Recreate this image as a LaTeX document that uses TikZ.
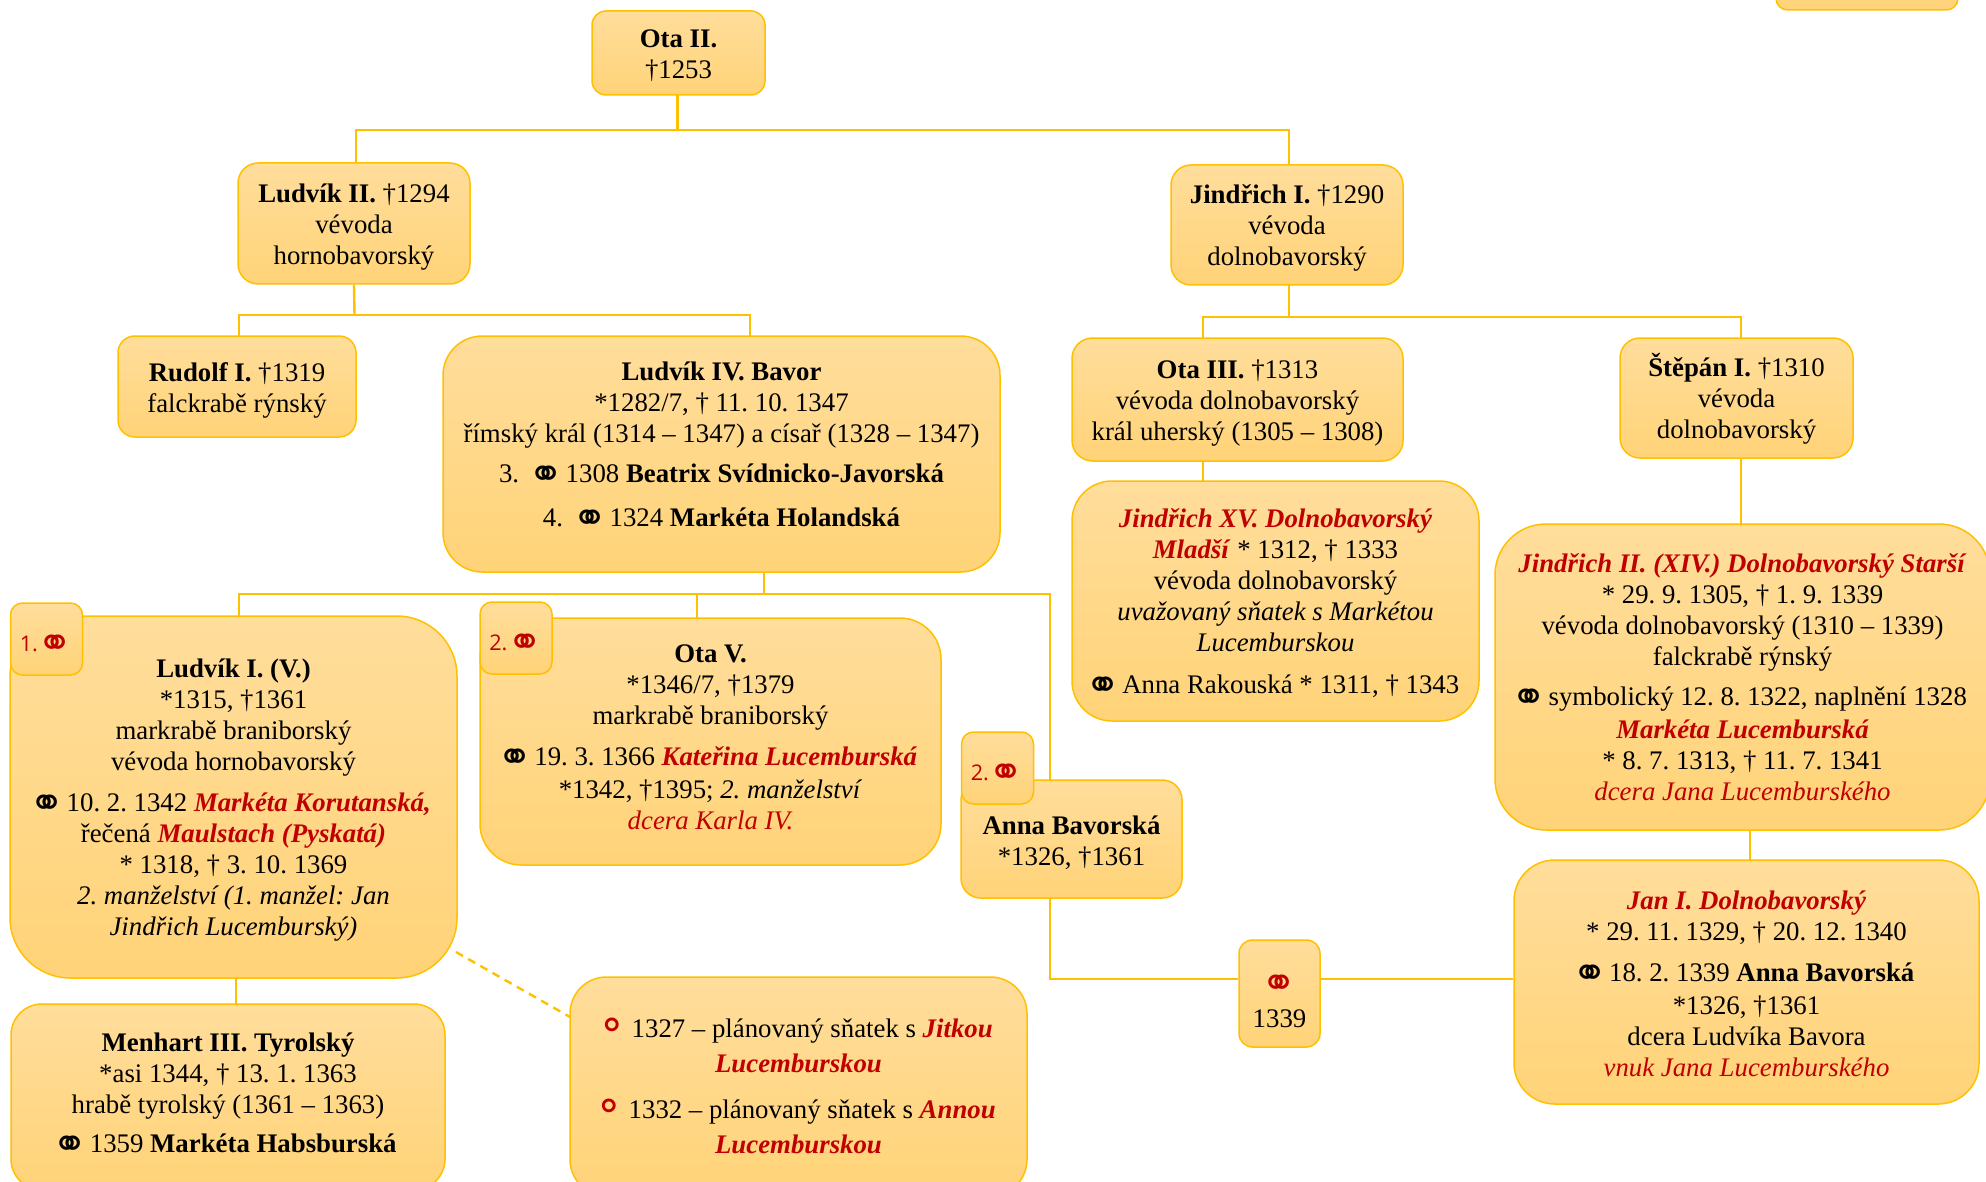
\documentclass[tikz,border=0pt]{standalone}
\usepackage{fontspec}
\setmainfont{Liberation Serif}
\newfontfamily\symfont{DejaVu Sans}
\newfontfamily\badgefont{Open Sans}
\definecolor{linegold}{HTML}{FFC000}
\definecolor{boxtop}{HTML}{FFDD9B}
\definecolor{boxbottom}{HTML}{FFD378}
\definecolor{namered}{HTML}{C00000}
\newcommand{\snb}{\smash{\raisebox{-3pt}{\symfont\fontsize{21}{21}\selectfont\char"26AD}}}
\newcommand{\sn}{\hspace{-3.2pt}\snb\hspace{-2.5pt}}
\newcommand{\plansn}{\hspace{-4.4pt}\smash{\raisebox{-1pt}{\symfont\fontsize{20}{20}\selectfont\color{namered}\char"26AC}}\hspace{-2pt}}
\newcommand{\jm}[1]{\textcolor{namered}{\textbf{\textit{#1}}}}
\newcommand{\rd}[1]{\textcolor{namered}{\textit{#1}}}
\newcommand{\dn}[1]{\rule{0pt}{\dimexpr 9.5pt+#1pt\relax}}
\newcommand{\up}[1]{\rule[-\dimexpr 3pt+#1pt\relax]{0pt}{0pt}}
\tikzset{
  boxsize/.style 2 args={minimum width=#1*0.5pt, minimum height=#2*0.5pt, rounded corners={min(#1,#2)/6*0.5pt}},
  person/.style={draw=linegold, line width=0.75pt, top color=boxtop, bottom color=boxbottom,
    inner sep=0pt, align=center, font=\fontsize{13.4}{15.5}\selectfont\frenchspacing},
  badge/.style={person, boxsize={72}{72}, font=\badgefont\fontsize{10.8}{12}\selectfont, text=namered},
  link/.style={draw=linegold, line width=1.2pt},
}
\begin{document}
\begin{tikzpicture}[x=0.5pt, y=-0.5pt]
  \clip (0,0) rectangle (1986,1182);
  % first two generations
  \node[person, boxsize={173}{84}] (otaII) at (678.5,53) {\dn{2.5}\textbf{Ota II.}\\†1253};
  \node[person, boxsize={232}{121}] (ludII) at (354,223.5) {\dn{3.8}\textbf{Ludvík II.} †1294\\vévoda\\hornobavorský};
  \node[person, boxsize={232}{120}] (jinI) at (1287,225) {\dn{2.5}\textbf{Jindřich I.} †1290\\vévoda\\dolnobavorský};
  \node[person, boxsize={182}{70}] (corner) at (1867,-25) {};
  % sons
  \node[person, boxsize={238}{101}] (rudI) at (237,386.5) {\dn{3.8}\textbf{Rudolf I.} †1319\\falckrabě rýnský};
  \node[person, boxsize={557}{236}] (ludIV) at (721.5,454) {\textbf{Ludvík IV. Bavor}\\*1282/7, † 11. 10. 1347\\římský král (1314 – 1347) a císař (1328 – 1347)\\[4.3pt]
    3.\hspace{0.6em}\sn{} 1308 \textbf{Beatrix Svídnicko-Javorská}\\[6.5pt]
    4.\hspace{0.6em}\sn{} 1324 \textbf{Markéta Holandská}\up{6.7}};
  \node[person, boxsize={331}{123}] (otaIII) at (1237.5,399.5) {\dn{3.8}\textbf{Ota III.} †1313\\vévoda dolnobavorský\\král uherský (1305 – 1308)};
  \node[person, boxsize={233}{120}] (stepI) at (1736.5,398) {\dn{2.5}\textbf{Štěpán I.} †1310\\vévoda\\dolnobavorský};
  \node[person, boxsize={407}{240}] (jinXV) at (1275.5,601) {\dn{2}\jm{Jindřich XV. Dolnobavorský}\\\jm{Mladší} * 1312, † 1333\\vévoda dolnobavorský\\\textit{uvažovaný sňatek s Markétou}\\\textit{Lucemburskou}\\[5.2pt]\sn{} Anna Rakouská * 1311, † 1343};
  \node[person, boxsize={495}{306}] (jinII) at (1742.5,677) {\dn{0.4}\jm{Jindřich II. (XIV.) Dolnobavorský Starší}\\* 29. 9. 1305, † 1. 9. 1339\\vévoda dolnobavorský (1310 – 1339)\\falckrabě rýnský\\[4.5pt]\sn{} symbolický 12. 8. 1322, naplnění 1328\\[1pt]\jm{Markéta Lucemburská}\\* 8. 7. 1313, † 11. 7. 1341\\\rd{dcera Jana Lucemburského}};
  % children of Ludvik IV
  \node[person, boxsize={447}{362}] (ludI) at (233.5,797) {\dn{3.2}\textbf{Ludvík I. (V.)}\\*1315, †1361\\markrabě braniborský\\vévoda hornobavorský\\[5pt]\sn{} 10. 2. 1342 \jm{Markéta Korutanská,}\\řečená \jm{Maulstach (Pyskatá)}\\* 1318, † 3. 10. 1369\\\textit{2. manželství (1. manžel: Jan}\\\textit{Jindřich Lucemburský)}};
  \node[badge] (ludIbadge) at (46.5,639) {\dn{3.5}1.\snb};
  \node[person, boxsize={461}{247}] (otaV) at (710.5,741.5) {\textbf{Ota V.}\\*1346/7, †1379\\markrabě braniborský\\[5pt]\sn{} 19. 3. 1366 \jm{Kateřina Lucemburská}\\[1pt]*1342, †1395; \textit{2. manželství}\\\rd{dcera Karla IV.}\up{1.2}};
  \node[badge] (otaVbadge) at (516,638) {\dn{3.5}2.\snb};
  \node[person, boxsize={221}{118}] (anna) at (1071.5,839) {\dn{4}\textbf{Anna Bavorská}\\*1326, †1361};
  \node[badge] (annabadge) at (997.5,768) {\dn{3.5}2.\snb};
  \node[person, boxsize={81}{107}] (svatba) at (1279.5,993.5) {\dn{6.5}\textcolor{namered}{\snb}\\[2.5pt]1339};
  \node[person, boxsize={465}{244}] (janI) at (1746.5,982) {\dn{2}\jm{Jan I. Dolnobavorský}\\* 29. 11. 1329, † 20. 12. 1340\\[5pt]\sn{} 18. 2. 1339 \textbf{Anna Bavorská}\\[1pt]*1326, †1361\\dcera Ludvíka Bavora\\\rd{vnuk Jana Lucemburského}};
  \node[person, boxsize={434}{186}] (menIII) at (228,1097) {\textbf{Menhart III. Tyrolský}\\*asi 1344, † 13. 1. 1363\\hrabě tyrolský (1361 – 1363)\\[4pt]\sn{} 1359 \textbf{Markéta Habsburská}\up{1.3}};
  \node[person, boxsize={457}{219}] (plany) at (798.5,1086.5) {\plansn{} 1327 – plánovaný sňatek s \jm{Jitkou}\\[2pt]\jm{Lucemburskou}\\[7.3pt]\plansn{} 1332 – plánovaný sňatek s \jm{Annou}\\[2pt]\jm{Lucemburskou}};
  % connectors
  \coordinate (otaIIbot) at (677.5,95);
  \coordinate (busA) at (677.5,130);
  \coordinate (ludIItop) at (356,163);
  \coordinate (jinItop) at (1289,165);
  \coordinate (busB) at (354.5,315);
  \coordinate (rudItop) at (239,336);
  \coordinate (jinIbot) at (1289,285);
  \coordinate (busC) at (1289,317);
  \coordinate (busD) at (764,594);
  \coordinate (ludIVtop) at (750,336);
  \coordinate (ludIVbot) at (764,572);
  \coordinate (ludItop) at (239,616);
  \coordinate (otaVtop) at (697,618);
  \coordinate (annatop) at (1050,780);
  \coordinate (annabot) at (1050,898);
  \coordinate (otaIIItop) at (1203,338);
  \coordinate (otaIIIbot) at (1203,461);
  \coordinate (jinXVtop) at (1203,481);
  \coordinate (steptop) at (1741,338);
  \coordinate (stepbot) at (1741,458);
  \coordinate (jinIItop) at (1741,524);
  \coordinate (jinIIbot) at (1750,830);
  \coordinate (jantop) at (1750,860);
  \coordinate (ludIbot) at (236,978);
  \coordinate (mentop) at (236,1004);
  \coordinate (ludIend) at (456,952);
  \coordinate (planyend) at (570,1017);
  \draw[link] (otaIIbot) -- (busA);
  \draw[link] (ludIItop) |- (busA) -| (jinItop);
  \draw[link] (ludII.south) -- (busB);
  \draw[link] (rudItop) |- (busB) -| (ludIVtop);
  \draw[link] (jinIbot) -- (busC);
  \draw[link] (otaIIItop) |- (busC) -| (steptop);
  \draw[link] (otaIIIbot) -- (jinXVtop);
  \draw[link] (stepbot) -- (jinIItop);
  \draw[link] (jinIIbot) -- (jantop);
  \draw[link] (ludIVbot) -- (busD);
  \draw[link] (ludItop) |- (busD) -| (annatop);
  \draw[link] (otaVtop) -- (otaVtop |- busD);
  \draw[link] (annabot) |- (svatba.west |- 0,979);
  \draw[link] (svatba.east |- 0,979) -- (janI.west |- 0,979);
  \draw[link] (ludIbot) -- (mentop);
  \draw[link, dash pattern=on 4pt off 3pt] (ludIend) -- (planyend);
\end{tikzpicture}
\end{document}
